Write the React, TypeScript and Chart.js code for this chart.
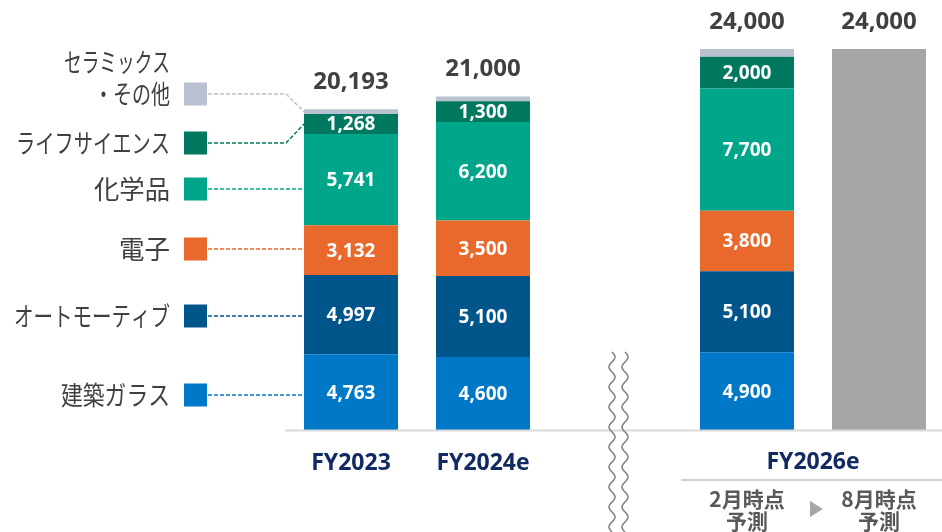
import React, { useEffect, useRef } from "react";
import { Chart, registerables } from "chart.js";

Chart.register(...registerables);

// ---------- data ----------
const categories = ["FY2023", "FY2024e", "", "2月時点予測", "8月時点予測"];
const glass = [4763, 4600, null, 4900, null];
const automotive = [4997, 5100, null, 5100, null];
const electronics = [3132, 3500, null, 3800, null];
const chemicals = [5741, 6200, null, 7700, null];
const lifeScience = [1268, 1300, null, 2000, null];
const ceramicsOther = [292, 300, null, 500, null];
const augustForecast = [null, null, null, null, 24000];
const totals = [20193, 21000, null, 24000, 24000];

const seriesNames = ["建築ガラス", "オートモーティブ", "電子", "化学品", "ライフサイエンス", "セラミックス・その他"];
const legendLines = [["建築ガラス"], ["オートモーティブ"], ["電子"], ["化学品"], ["ライフサイエンス"], ["セラミックス", "・その他"]];
const xTickLabels = ["FY2023", "FY2024e"];
const groupLabel = "FY2026e";
const subLabels = [["2月時点", "予測"], ["8月時点", "予測"]];

// ---------- styles / layout ----------
const colors = ["#0078c8", "#00558b", "#e9692c", "#00a689", "#007860", "#b9c1d1"];
const greyBar = "#a6a6a6";
const legendY = [395, 316, 249, 189, 143, 94];
const legendMaxW = [[109], [156], [51], [76], [154], [106, 76]];
const NUM_FONT = "'Open Sans', 'Noto Sans', sans-serif";
const JP_FONT = "'Noto Sans CJK JP', 'Noto Sans', sans-serif";
const navy = "#112a63";

const overlay = {
  id: "overlay",
  afterDatasetsDraw(chart: any) {
    const ctx: CanvasRenderingContext2D = chart.ctx;
    const xs = chart.scales.x;
    const ys = chart.scales.y;
    const base = ys.getPixelForValue(0);
    const area = chart.chartArea;
    ctx.save();

    // baseline
    ctx.strokeStyle = "#d9d9d9";
    ctx.lineWidth = 2;
    ctx.beginPath();
    ctx.moveTo(area.left, base + 0.5);
    ctx.lineTo(chart.width, base + 0.5);
    ctx.stroke();

    // segment labels
    ctx.fillStyle = "#ffffff";
    ctx.font = `bold 19px ${NUM_FONT}`;
    ctx.textAlign = "center";
    ctx.textBaseline = "middle";
    for (let d = 0; d < 5; d++) {
      const meta = chart.getDatasetMeta(d);
      const vals = chart.data.datasets[d].data;
      vals.forEach((v: number | null, i: number) => {
        if (v == null) return;
        const el = meta.data[i];
        ctx.fillText(v.toLocaleString("en-US"), el.x, (el.y + el.base) / 2 + 1);
      });
    }

    // totals
    ctx.fillStyle = "#404040";
    ctx.font = `bold 24px ${NUM_FONT}`;
    totals.forEach((t, i) => {
      if (t == null) return;
      const y = ys.getPixelForValue(t);
      ctx.fillText(t.toLocaleString("en-US"), xs.getPixelForValue(i), y - 27);
    });

    // legend
    const bar0 = chart.getDatasetMeta(0).data[0];
    const barLeft = bar0.x - bar0.width / 2;
    let cum = 0;
    const dsAll = [glass, automotive, electronics, chemicals, lifeScience, ceramicsOther];
    dsAll.forEach((arr, k) => {
      const v = arr[0] as number;
      const segBottom = ys.getPixelForValue(cum);
      const segTop = ys.getPixelForValue(cum + v);
      cum += v;
      const ly = legendY[k];
      ctx.fillStyle = colors[k];
      ctx.fillRect(184, ly - 11.5, 23, 23);
      ctx.strokeStyle = colors[k];
      ctx.lineWidth = 1.5;
      ctx.setLineDash([4, 2]);
      ctx.beginPath();
      ctx.moveTo(208, ly);
      if (ly >= segTop && ly <= segBottom) {
        ctx.lineTo(barLeft, ly);
      } else {
        ctx.lineTo(barLeft - 18, ly);
        ctx.lineTo(barLeft, (segTop + segBottom) / 2);
      }
      ctx.stroke();
      ctx.setLineDash([]);
      ctx.fillStyle = "#404040";
      ctx.font = `26px ${JP_FONT}`;
      ctx.textAlign = "right";
      ctx.textBaseline = "middle";
      const lines = legendLines[k];
      lines.forEach((ln, li) => {
        const yy = ly - (lines.length - 1 - li) * 32;
        ctx.fillText(ln, 170, yy, legendMaxW[k][li]);
      });
    });

    // x labels
    ctx.textAlign = "center";
    ctx.textBaseline = "middle";
    ctx.fillStyle = navy;
    ctx.font = `bold 23px ${NUM_FONT}`;
    xTickLabels.forEach((l, i) => ctx.fillText(l, xs.getPixelForValue(i), base + 33));
    const c3 = xs.getPixelForValue(3);
    const c4 = xs.getPixelForValue(4);
    ctx.fillText(groupLabel, (c3 + c4) / 2, base + 32);
    const step = c4 - c3;
    ctx.strokeStyle = "#bfbfbf";
    ctx.lineWidth = 1.5;
    ctx.beginPath();
    ctx.moveTo(c3 - step / 2, base + 50);
    ctx.lineTo(chart.width, base + 50);
    ctx.stroke();
    ctx.fillStyle = "#595959";
    ctx.font = `bold 21px ${JP_FONT}`;
    [c3, c4].forEach((cx, i) => {
      ctx.fillText(subLabels[i][0], cx, base + 69);
      ctx.fillText(subLabels[i][1], cx, base + 91);
    });
    const tx = (c3 + c4) / 2 + 3;
    ctx.fillStyle = "#a6a6a6";
    ctx.beginPath();
    ctx.moveTo(tx - 6, base + 71);
    ctx.lineTo(tx + 7, base + 79);
    ctx.lineTo(tx - 6, base + 87);
    ctx.closePath();
    ctx.fill();

    // wavy break lines
    const wc = xs.getPixelForValue(2) + 3.5;
    ctx.strokeStyle = "#7f7f7f";
    ctx.lineWidth = 1.5;
    [-6.5, 6.5].forEach((off) => {
      ctx.beginPath();
      for (let y = base - 78; y <= chart.height; y += 1) {
        const x = wc + off + 3 * Math.sin(((y - (base - 78)) / 20) * Math.PI * 2);
        if (y === base - 78) ctx.moveTo(x, y);
        else ctx.lineTo(x, y);
      }
      ctx.stroke();
    });

    ctx.restore();
  },
};

export default function App() {
  const ref = useRef<HTMLCanvasElement>(null);
  useEffect(() => {
    const canvas = ref.current!;
    const mk = (label: string, data: (number | null)[], color: string) => ({
      label,
      data,
      backgroundColor: color,
      borderWidth: 0,
      stack: "s",
    });
    const chart = new Chart(canvas, {
      type: "bar",
      data: {
        labels: categories,
        datasets: [
          mk(seriesNames[0], glass, colors[0]),
          mk(seriesNames[1], automotive, colors[1]),
          mk(seriesNames[2], electronics, colors[2]),
          mk(seriesNames[3], chemicals, colors[3]),
          mk(seriesNames[4], lifeScience, colors[4]),
          mk(seriesNames[5], ceramicsOther, colors[5]),
          mk("8月時点予測", augustForecast, greyBar),
        ] as any,
      },
      options: {
        animation: false,
        responsive: false,
        maintainAspectRatio: false,
        layout: { padding: { left: 285, right: 1, top: 33, bottom: 102 } },
        datasets: { bar: { barPercentage: 0.712, categoryPercentage: 1 } },
        scales: {
          x: { display: false, stacked: true },
          y: { display: false, stacked: true, min: 0, max: 25000 },
        },
        plugins: { legend: { display: false }, tooltip: { enabled: false } },
      },
      plugins: [overlay],
    });
    return () => chart.destroy();
  }, []);
  return (
    <div style={{ position: "fixed", left: 0, top: 0, width: 942, height: 532, overflow: "hidden", background: "#fff" }}>
      <canvas ref={ref} width={946} height={532} style={{ display: "block", width: 946, height: 532 }} />
    </div>
  );
}
